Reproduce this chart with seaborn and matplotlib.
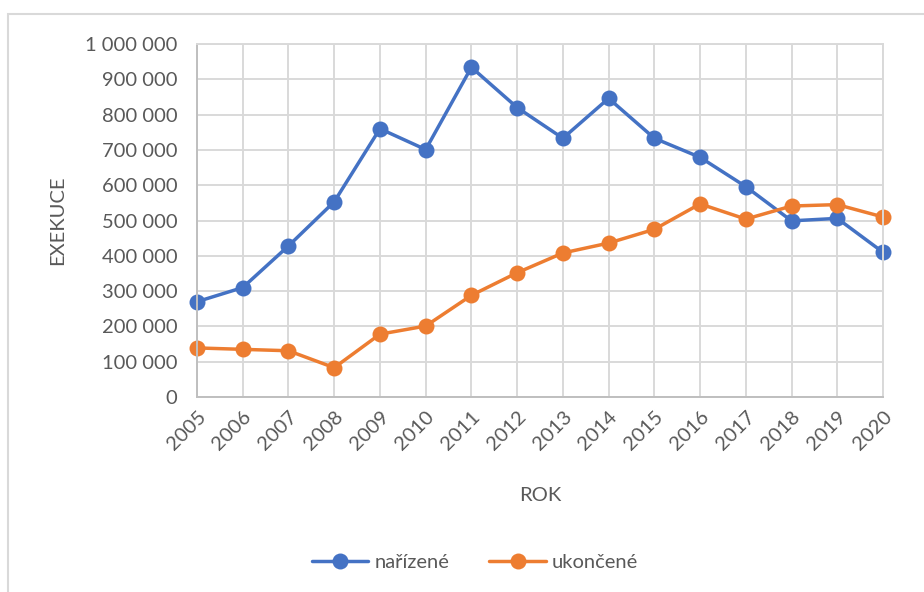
import pandas as pd
import seaborn as sns
import matplotlib.pyplot as plt
from matplotlib.ticker import FuncFormatter, MultipleLocator
from matplotlib.patches import Rectangle

# Data
years = [2005, 2006, 2007, 2008, 2009, 2010, 2011, 2012,
         2013, 2014, 2015, 2016, 2017, 2018, 2019, 2020]
narizene = [270000, 310000, 428000, 553000, 760000, 701000, 934000, 820000,
            733000, 846000, 733000, 679000, 596000, 499000, 506000, 410000]
ukoncene = [139000, 135000, 131000, 83000, 178000, 201000, 288000, 352000,
            408000, 436000, 475000, 547000, 504000, 541000, 545000, 510000]
series_names = ['nařízené', 'ukončené']
colors = ['#4472C4', '#ED7D31']

df = pd.DataFrame({'ROK': years * 2,
                   'EXEKUCE': narizene + ukoncene,
                   'série': [series_names[0]] * len(years) + [series_names[1]] * len(years)})

sns.set_theme(style='white')
plt.rcParams['font.family'] = ['Lato', 'DejaVu Sans']
text_col = '#595959'
grid_col = '#D9D9D9'
fs = 14.5

fig = plt.figure(figsize=(9.24, 5.92), dpi=100)
ax = fig.add_axes([197 / 924, 1 - 397 / 592, (883 - 197) / 924, (397 - 44) / 592])

# chart frame (partly cut off on the right/bottom like the reference)
fig.patches.append(Rectangle((8 / 924, -0.1), 1.2, 1.1 - 14 / 592, transform=fig.transFigure,
                             fill=False, edgecolor=grid_col, linewidth=1.5, zorder=0))

sns.lineplot(data=df, x='ROK', y='EXEKUCE', hue='série', palette=colors, marker='o',
             markersize=11.5, markeredgewidth=0, linewidth=2.5, ax=ax, clip_on=False)

ax.set_xlim(2005, 2020)
ax.set_ylim(0, 1000000)
ax.set_xticks(years)
ax.set_xticklabels([str(y) for y in years], rotation=45, ha='right', rotation_mode='anchor')
ax.yaxis.set_major_locator(MultipleLocator(100000))
ax.yaxis.set_major_formatter(FuncFormatter(lambda v, p: f"{int(v):,}".replace(',', ' ')))

ax.grid(True, color=grid_col, linewidth=1.4)
ax.set_axisbelow(True)
for s in ax.spines.values():
    s.set_color(grid_col)
    s.set_linewidth(1.4)
ax.spines['bottom'].set_color('#BFBFBF')
ax.spines['left'].set_color('#BFBFBF')

ax.tick_params(axis='both', length=0, colors=text_col, labelsize=fs)
ax.tick_params(axis='y', pad=14)
ax.tick_params(axis='x', pad=8)

ax.set_xlabel('ROK', fontsize=fs, color=text_col, labelpad=24)
ax.set_ylabel('EXEKUCE', fontsize=fs, color=text_col, labelpad=14)

ax.legend_.remove()
handles, labels = ax.get_legend_handles_labels()
fig.legend(handles, labels, loc='center', bbox_to_anchor=(0.514, 1 - 562 / 592), ncol=2,
           frameon=False, fontsize=fs, labelcolor=text_col, handlelength=2.8,
           handletextpad=0.3, columnspacing=2.0)

fig.savefig('out.png', dpi=100)
